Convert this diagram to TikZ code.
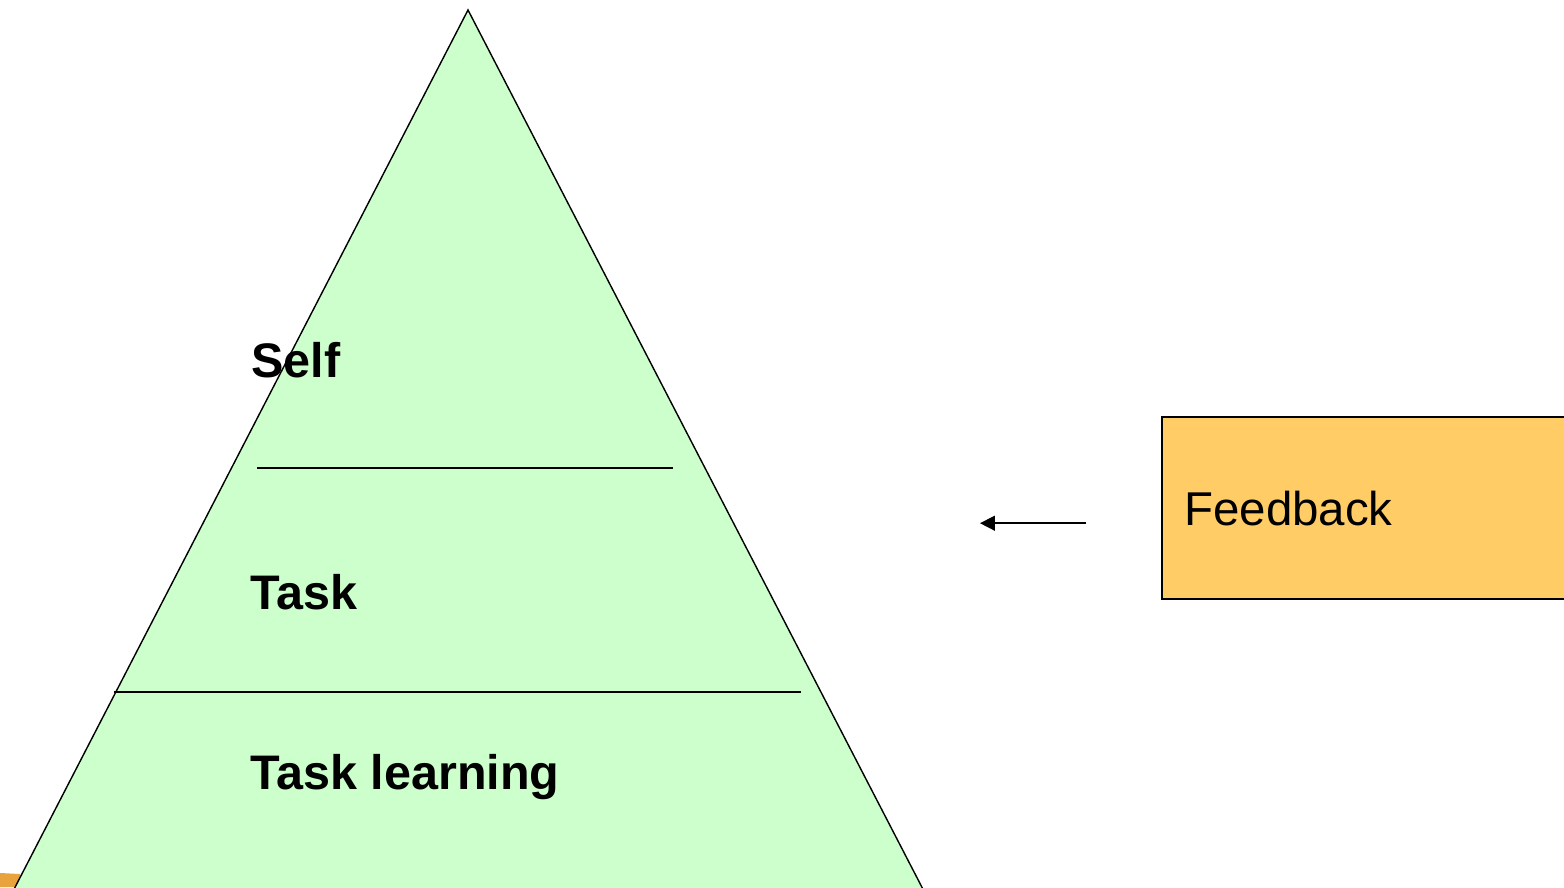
\documentclass[tikz,border=0pt]{standalone}
\usepackage{fontspec}
\setmainfont{Liberation Sans}
\usetikzlibrary{
  arrows.meta,
  positioning,
  calc
}
\definecolor{layerGreen}{HTML}{CCFFCC}
\definecolor{fbOrange}{HTML}{FFCC66}
\definecolor{cornerOrange}{HTML}{E8A33D}

\begin{document}
\begin{tikzpicture}[
  layerlabel/.style={font=\fontsize{27.6}{33}\selectfont\bfseries, anchor=base west, inner sep=0pt},
  fbbox/.style={draw, line width=0.9pt, fill=fbOrange, anchor=south west, minimum width=8.4cm,
    minimum height=3.64cm, text width=7.5cm, align=left, inner xsep=0.4cm,
    font=\fontsize{27}{32}\selectfont}
]
  \useasboundingbox (0,0) rectangle (31.28,17.74);
  \clip (0,0) rectangle (31.28,17.74);
  \fill[cornerOrange] (0,0) -- (0,0.28) -- (0.4,0.26) -- (0.4,0) -- cycle;
  \draw[line width=0.8pt, fill=layerGreen] (9.36,17.54) -- (18.54,-0.2) -- (0.2,-0.2) -- cycle;
  \draw[line width=0.9pt] (5.14,8.38) -- (13.46,8.38);
  \draw[line width=0.9pt] (2.28,3.9) -- (16.02,3.9);
  \node[layerlabel] (self) at (5.02,10.2) {Self};
  \node[layerlabel] (task) at (5.0,5.56) {Task};
  \node[layerlabel] (tasklearning) at (5.0,1.96) {Task learning};
  \node[fbbox] (feedback) at (23.22,5.74) {Feedback};
  \coordinate (fbtail) at ([shift={(-1.5,-0.3)}]feedback.west);
  \coordinate (fbhead) at ([xshift=-2.12cm]fbtail);
  \draw[line width=0.9pt, -{Triangle[length=8.5pt,width=8.5pt]}] (fbtail) -- (fbhead);
\end{tikzpicture}
\end{document}
